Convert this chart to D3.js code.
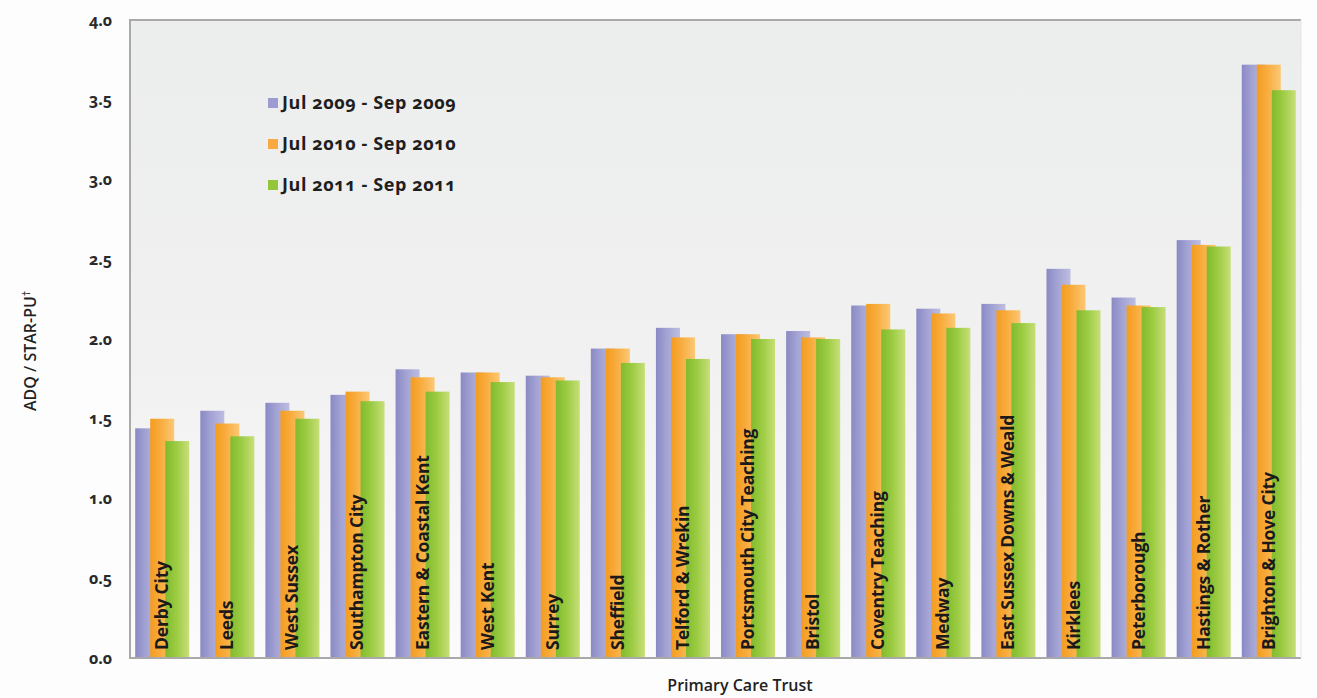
<!DOCTYPE html>
<html>
<head>
<meta charset="utf-8">
<script src="https://cdn.jsdelivr.net/npm/d3@7"></script>
<style>
  html, body { margin: 0; padding: 0; background: #fdfdfd; }
  svg { display: block; }
  text { font-family: "Open Sans", "DejaVu Sans", sans-serif; }
  .num { font-variant-numeric: oldstyle-nums; font-feature-settings: "onum" 1; }
</style>
</head>
<body>
<svg id="chart" width="1317" height="698"></svg>
<script>
// Primary Care Trusts, ordered as on the axis
const trusts = [
  "Derby City", "Leeds", "West Sussex", "Southampton City", "Eastern & Coastal Kent",
  "West Kent", "Surrey", "Sheffield", "Telford & Wrekin", "Portsmouth City Teaching",
  "Bristol", "Coventry Teaching", "Medway", "East Sussex Downs & Weald", "Kirklees",
  "Peterborough", "Hastings & Rother", "Brighton & Hove City"
];

// Reporting periods (legend)
const periods = ["Jul 2009 - Sep 2009", "Jul 2010 - Sep 2010", "Jul 2011 - Sep 2011"];

// ADQ / STAR-PU per trust, one array per period
const q2009 = [1.44, 1.55, 1.60, 1.65, 1.81, 1.79, 1.77, 1.94, 2.07, 2.03, 2.05, 2.21, 2.19, 2.22, 2.44, 2.26, 2.62, 3.72];
const q2010 = [1.50, 1.47, 1.55, 1.67, 1.76, 1.79, 1.76, 1.94, 2.01, 2.03, 2.01, 2.22, 2.16, 2.18, 2.34, 2.21, 2.59, 3.72];
const q2011 = [1.36, 1.39, 1.50, 1.61, 1.67, 1.73, 1.74, 1.85, 1.875, 2.00, 2.00, 2.06, 2.07, 2.10, 2.18, 2.20, 2.58, 3.56];

// Y axis ticks
const yTicks = [0, 0.5, 1.0, 1.5, 2.0, 2.5, 3.0, 3.5, 4.0];

const seriesValues = [q2009, q2010, q2011];

const svg = d3.select("#chart");
const plot = { left: 130, right: 1301, top: 20, bottom: 658 };

// Gradient colours per series (dark left edge to light right edge)
const gradStops = [
  ["#8a89c4", "#a3a3d4", "#bdbde2"],
  ["#f39c1f", "#f8ad3f", "#fcc875"],
  ["#82bb2d", "#9bcb42", "#c7df78"]
];
const legendColors = ["#9d9cd2", "#f8aa40", "#94c63c"];

const defs = svg.append("defs");
gradStops.forEach((stops, i) => {
  const g = defs.append("linearGradient").attr("id", "bar" + i)
    .attr("x1", "0%").attr("x2", "100%").attr("y1", "0%").attr("y2", "0%");
  g.append("stop").attr("offset", "0%").attr("stop-color", stops[0]);
  g.append("stop").attr("offset", "45%").attr("stop-color", stops[1]);
  g.append("stop").attr("offset", "100%").attr("stop-color", stops[2]);
});
const bg = defs.append("linearGradient").attr("id", "bg")
  .attr("x1", "0%").attr("x2", "0%").attr("y1", "0%").attr("y2", "100%");
bg.append("stop").attr("offset", "0%").attr("stop-color", "#eceeed");
bg.append("stop").attr("offset", "55%").attr("stop-color", "#f0f1f0");
bg.append("stop").attr("offset", "100%").attr("stop-color", "#fbfbfb");

// Scales
const y = d3.scaleLinear().domain([0, 4]).range([plot.bottom, plot.top]);
const x0 = d3.scaleBand().domain(trusts).range([plot.left, plot.right])
  .paddingInner(0.17).paddingOuter(0.08);
const barW = 24;
const xs = d3.scalePoint().domain([0, 1, 2]).range([0, x0.bandwidth() - barW]);

// Plot background
svg.append("rect")
  .attr("x", plot.left).attr("y", plot.top)
  .attr("width", plot.right - plot.left).attr("height", plot.bottom - plot.top)
  .attr("fill", "url(#bg)");

// Bars (drawn series by series so later periods overlap earlier ones)
seriesValues.forEach((vals, s) => {
  svg.append("g").selectAll("rect")
    .data(trusts.map((t, i) => ({ t, v: vals[i] })))
    .join("rect")
    .attr("x", d => x0(d.t) + xs(s))
    .attr("y", d => y(d.v))
    .attr("width", barW)
    .attr("height", d => y(0) - y(d.v))
    .attr("fill", `url(#bar${s})`);
});

// Frame lines
svg.append("path")
  .attr("d", `M${plot.right},${plot.top}H${plot.left}V${plot.bottom}H${plot.right}`)
  .attr("fill", "none").attr("stroke", "#a9a9a9").attr("stroke-width", 2);
svg.append("line")
  .attr("x1", plot.right).attr("x2", plot.right).attr("y1", plot.top).attr("y2", plot.bottom)
  .attr("stroke", "#e4e5e4").attr("stroke-width", 1);

// Category labels, rotated, inside the bars
svg.append("g").selectAll("text")
  .data(trusts)
  .join("text")
  .attr("transform", d => `translate(${x0(d) + xs(1) + barW / 2 + 6},${plot.bottom - 8}) rotate(-90)`)
  .attr("font-size", 17.5)
  .attr("font-weight", 700)
  .attr("letter-spacing", -0.2)
  .attr("fill", "#1a1a1a")
  .text(d => d);

// Y axis tick labels
const yAxis = d3.axisLeft(y).tickValues(yTicks).tickFormat(d3.format(".1f")).tickSize(0).tickPadding(18);
const ya = svg.append("g").attr("transform", `translate(${plot.left},0)`).call(yAxis);
ya.select(".domain").remove();
ya.selectAll("text")
  .attr("class", "num")
  .attr("font-family", "\"Open Sans\", sans-serif")
  .attr("font-size", 16).attr("font-weight", 700).attr("fill", "#2a2a2a");

// Axis titles
const yt = svg.append("text")
  .attr("transform", `translate(36,${(plot.top + plot.bottom) / 2 + 12}) rotate(-90)`)
  .attr("text-anchor", "middle")
  .attr("font-size", 16).attr("font-weight", 600).attr("fill", "#222");
yt.append("tspan").text("ADQ / STAR-PU");
yt.append("tspan").attr("dy", -6).attr("font-size", 10).text("†");

svg.append("text")
  .attr("x", 740).attr("y", 691)
  .attr("text-anchor", "middle")
  .attr("font-size", 16).attr("font-weight", 600).attr("fill", "#222")
  .text("Primary Care Trust");

// Legend
const legend = svg.append("g").attr("transform", "translate(268,103)");
periods.forEach((p, i) => {
  const row = legend.append("g").attr("transform", `translate(0,${i * 41})`);
  row.append("rect").attr("x", 0).attr("y", -5).attr("width", 10).attr("height", 10)
    .attr("fill", legendColors[i]);
  row.append("text").attr("class", "num").attr("x", 14).attr("y", 6)
    .attr("font-size", 18).attr("font-weight", 700).attr("letter-spacing", 0.6)
    .attr("fill", "#1e1e1e")
    .text(p);
});
</script>
</body>
</html>
